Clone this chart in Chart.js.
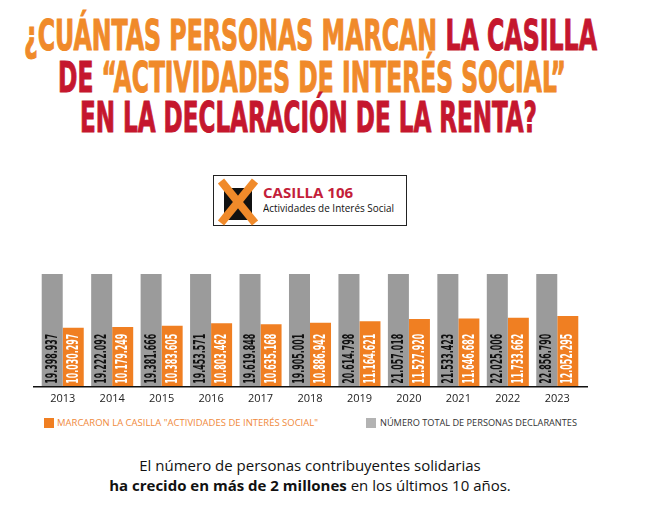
<!DOCTYPE html>
<html lang="es">
<head>
<meta charset="utf-8">
<title>Casilla 106 - Actividades de Interés Social</title>
<script src="https://cdn.jsdelivr.net/npm/chart.js@4.4.1/dist/chart.umd.min.js"></script>
<style>
  html, body { margin: 0; padding: 0; background: #fff; }
  body { width: 662px; height: 509px; position: relative; overflow: hidden; font-family: 'Open Sans', sans-serif; }
  .abs { position: absolute; white-space: nowrap; transform-origin: left top; }
  .titulo { font-family: 'Liberation Sans Narrow', 'DejaVu Sans Condensed', sans-serif; font-weight: bold; font-size: 42px; line-height: 42px; -webkit-text-stroke: 1px currentColor; }
  .naranja { color: #F08A2A; }
  .rojo { color: #C5172E; }
  #caja { position: absolute; left: 213px; top: 175px; width: 192px; height: 49px; border: 1.5px solid #222; }
  .casilla { font-weight: bold; font-size: 15px; line-height: 15px; color: #C41E3A; }
  .sub { font-size: 10px; line-height: 10px; color: #111; }
  .leyenda { font-size: 9.5px; line-height: 10px; }
  .cuadro { position: absolute; width: 10px; height: 10px; }
  .pie { position: absolute; left: 0; width: 620px; text-align: center; font-size: 15px; line-height: 20px; color: #111; }
  #grafico { position: absolute; left: 0; top: 264px; width: 662px; height: 146px; }
</style>
</head>
<body>

<div class="abs titulo fit" style="left:24px; top:15px" data-w="573"><span class="naranja">¿CUÁNTAS PERSONAS MARCAN </span><span class="rojo">LA CASILLA</span></div>
<div class="abs titulo fit" style="left:58px; top:57px" data-w="508"><span class="rojo">DE </span><span class="naranja">“ACTIVIDADES DE INTERÉS SOCIAL”</span></div>
<div class="abs titulo fit rojo" style="left:80px; top:97px" data-w="457">EN LA DECLARACIÓN DE LA RENTA?</div>

<div id="caja"></div>
<svg class="abs" style="left:216px; top:178px" width="44" height="48" viewBox="0 0 44 48">
  <rect x="8" y="10" width="28" height="32" fill="#111"/>
  <line x1="5" y1="3" x2="39" y2="45" stroke="#F08A2A" stroke-width="8"/>
  <line x1="39" y1="3" x2="5" y2="45" stroke="#F08A2A" stroke-width="8"/>
</svg>
<div class="abs casilla" style="left:263px; top:185px">CASILLA 106</div>
<div class="abs sub fit" style="left:263px; top:203px" data-w="131">Actividades de Interés Social</div>

<div id="grafico"><canvas id="lienzo"></canvas></div>

<div class="cuadro" style="left:44px; top:418px; background:#F07F22"></div>
<div class="abs leyenda fit" style="left:57px; top:418px; color:#F08A3C" data-w="261">MARCARON LA CASILLA "ACTIVIDADES DE INTERÉS SOCIAL"</div>
<div class="cuadro" style="left:366px; top:418px; background:#B3B3B3"></div>
<div class="abs leyenda fit" style="left:380px; top:418px; color:#333" data-w="197">NÚMERO TOTAL DE PERSONAS DECLARANTES</div>

<div class="pie" style="top:455px">El número de personas contribuyentes solidarias</div>
<div class="pie" style="top:475px"><b>ha crecido en más de 2 millones</b> en los últimos 10 años.</div>

<script>
// Datos
const anios = ['2013', '2014', '2015', '2016', '2017', '2018', '2019', '2020', '2021', '2022', '2023'];
const totalDeclarantes = [19398937, 19222092, 19381666, 19453571, 19619848, 19905001, 20614798, 21057018, 21533423, 22025006, 22856790];
const marcaronCasilla = [10030297, 10179249, 10383605, 10803462, 10635168, 10886942, 11164621, 11527920, 11646682, 11733662, 12052295];

// Ajustar el ancho de los textos al original
document.querySelectorAll('.fit').forEach(el => {
    const w = el.getBoundingClientRect().width;
    el.style.transform = `scaleX(${el.dataset.w / w})`;
});

function formatoMiles(n) {
    return String(n).replace(/\B(?=(\d{3})+(?!\d))/g, '.');
}

// Etiquetas verticales dentro de las barras + línea del eje
const fuenteEtiqueta = "bold 16px 'Liberation Sans Narrow', 'DejaVu Sans Condensed', sans-serif";
const etiquetasBarras = {
    id: 'etiquetasBarras',
    afterDatasetsDraw(chart) {
        const ctx = chart.ctx;
        const area = chart.chartArea;
        ctx.save();
        ctx.font = fuenteEtiqueta;
        // largo de una etiqueta de 8 cifras en el original: ~50px
        const sx = 50 / ctx.measureText('00.000.000').width;
        ctx.restore();
        chart.data.datasets.forEach((ds, i) => {
            chart.getDatasetMeta(i).data.forEach((bar, j) => {
                ctx.save();
                ctx.translate(bar.x + 0.5, bar.base - 3);
                ctx.rotate(-Math.PI / 2);
                ctx.scale(sx, 1);
                ctx.font = fuenteEtiqueta;
                ctx.fillStyle = ds.labelColor;
                ctx.textAlign = 'left';
                ctx.textBaseline = 'middle';
                ctx.fillText(formatoMiles(ds.data[j]), 0, 0);
                ctx.restore();
            });
        });
        ctx.save();
        ctx.strokeStyle = '#111';
        ctx.lineWidth = 1.5;
        ctx.beginPath();
        ctx.moveTo(area.left - 5, area.bottom);
        ctx.lineTo(area.right + 6, area.bottom);
        ctx.stroke();
        ctx.restore();
    }
};

new Chart(document.getElementById('lienzo'), {
    type: 'bar',
    data: {
        labels: anios,
        datasets: [
            {
                label: 'NÚMERO TOTAL DE PERSONAS DECLARANTES',
                data: totalDeclarantes,
                backgroundColor: '#9B9B9B',
                labelColor: '#111',
                clip: 0
            },
            {
                label: 'MARCARON LA CASILLA "ACTIVIDADES DE INTERÉS SOCIAL"',
                data: marcaronCasilla,
                backgroundColor: '#F07F22',
                labelColor: '#fff',
                clip: 0
            }
        ]
    },
    options: {
        responsive: true,
        maintainAspectRatio: false,
        animation: false,
        layout: { padding: { left: 38, right: 80, top: 10, bottom: 0 } },
        datasets: { bar: { categoryPercentage: 0.85, barPercentage: 1 } },
        plugins: { legend: { display: false }, tooltip: { enabled: false } },
        scales: {
            x: {
                grid: { display: false, drawTicks: false },
                border: { display: false },
                ticks: { color: '#222', font: { family: 'Open Sans', size: 11 }, padding: 5 }
            },
            y: { display: false, min: 0, max: 19200000 }
        }
    },
    plugins: [etiquetasBarras]
});
</script>
</body>
</html>
